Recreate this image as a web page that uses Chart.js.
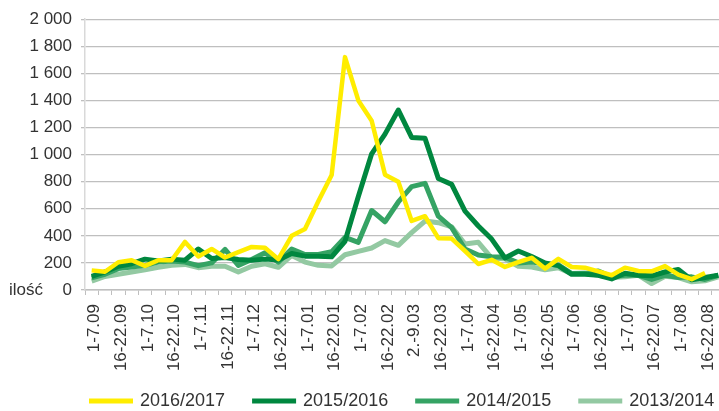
<!DOCTYPE html>
<html>
<head>
<meta charset="utf-8">
<script src="https://cdn.jsdelivr.net/npm/chart.js@4.4.1/dist/chart.umd.min.js"></script>
<style>
    html, body { margin: 0; padding: 0; background: #fff; overflow: hidden; }
    #wrap { width: 802px; height: 411px; }
</style>
</head>
<body>
<div id="wrap"><canvas id="weeklyChart" width="802" height="411"></canvas></div>
<script>
// Weekly categories, September to August
const weeks = [
    '1-7.09', '8-15.09', '16-22.09', '23-30.09',
    '1-7.10', '8-15.10', '16-22.10', '23-31.10',
    '1-7.11', '8-15.11', '16-22.11', '23-30.11',
    '1-7.12', '8-15.12', '16-22.12', '23-31.12',
    '1-7.01', '8-15.01', '16-22.01', '23-31.01',
    '1-7.02', '8-15.02', '16-22.02', '23-28.02',
    '2.-9.03', '10-15.03', '16-22.03', '23-31.03',
    '1-7.04', '8-15.04', '16-22.04', '23-30.04',
    '1-7.05', '8-15.05', '16-22.05', '23-31.05',
    '1-7.06', '8-15.06', '16-22.06', '23-30.06',
    '1-7.07', '8-15.07', '16-22.07', '23-31.07',
    '1-7.08', '8-15.08', '16-22.08', '23-31.08'
];

const season2016 = [145, 135, 205, 220, 178, 220, 220, 355, 248, 303, 240, 280, 318, 312, 228, 400,
    450, 655, 850, 1720, 1400, 1250, 852, 800, 510, 545, 383, 380, 288, 192, 223, 170,
    206, 238, 158, 230, 170, 165, 137, 109, 165, 141, 138, 177, 114, 80, 126, null];
const season2015 = [100, 133, 175, 194, 228, 215, 228, 220, 303, 232, 240, 225, 220, 228, 222, 270,
    250, 250, 245, 360, 690, 1006, 1151, 1329, 1127, 1120, 824, 780, 582, 473, 376, 236,
    288, 247, 199, 180, 116, 116, 109, 82, 124, 109, 105, 133, 152, 75, 92, 109];
const season2014 = [90, 116, 158, 170, 182, 206, 215, 206, 180, 200, 300, 182, 225, 275, 206, 303,
    262, 262, 283, 388, 352, 587, 504, 650, 764, 788, 545, 461, 303, 258, 245, 242,
    200, 206, 194, 185, 121, 121, 140, 97, 109, 109, 78, 109, 92, 97, 78, 109];
const season2013 = [65, 100, 116, 133, 150, 168, 182, 189, 165, 175, 175, 133, 175, 194, 168, 255,
    206, 182, 178, 260, 285, 310, 365, 330, 424, 509, 497, 467, 339, 352, 235, 230,
    175, 170, 150, 165, 121, 126, 109, 92, 97, 109, 48, 102, 92, 61, 68, 97];

const seasonNames = ['2016/2017', '2015/2016', '2014/2015', '2013/2014'];
const seasonColors = ['#ffed00', '#00873f', '#35a364', '#93c9a2'];
const yTicks = [0, 200, 400, 600, 800, 1000, 1200, 1400, 1600, 1800, 2000];

const FONT = 'Liberation Sans';
const TEXT = '#333333';

// "2 000" style numbers
function formatNumber(v) {
    if (v < 1000) return String(v);
    return Math.floor(v / 1000) + ' ' + String(v % 1000).padStart(3, '0');
}

// Legend and the "ilość" axis note, drawn on the canvas
const extrasPlugin = {
    id: 'extras',
    afterDraw(chart) {
        const ctx = chart.ctx;
        const y = chart.scales.y;
        ctx.save();
        ctx.fillStyle = TEXT;
        ctx.font = '17px "' + FONT + '"';
        ctx.textBaseline = 'middle';
        ctx.textAlign = 'left';
        ctx.fillText('ilość', 9, y.getPixelForValue(0));

        ctx.font = '18px "' + FONT + '"';
        let x = 89;
        const ly = 401;
        chart.data.datasets.forEach(ds => {
            ctx.fillStyle = ds.borderColor;
            ctx.fillRect(x, ly - 2.5, 44, 5);
            ctx.fillStyle = TEXT;
            ctx.fillText(ds.label, x + 51, ly);
            x += 51 + ctx.measureText(ds.label).width + 27;
        });
        ctx.restore();
    }
};

const series = [season2016, season2015, season2014, season2013];

new Chart(document.getElementById('weeklyChart').getContext('2d'), {
    type: 'line',
    data: {
        labels: weeks,
        datasets: series.map((values, i) => ({
            label: seasonNames[i],
            data: values,
            borderColor: seasonColors[i],
            backgroundColor: seasonColors[i],
            borderWidth: i === 0 ? 4.5 : 5,
            borderJoinStyle: 'round',
            pointRadius: 0,
            tension: 0,
            spanGaps: false
        }))
    },
    options: {
        responsive: false,
        animation: false,
        devicePixelRatio: 1,
        layout: { padding: { left: 0, top: 15, right: 77, bottom: 35 } },
        plugins: {
            legend: { display: false },
            tooltip: { enabled: false }
        },
        scales: {
            x: {
                offset: true,
                grid: { offset: true, drawOnChartArea: false, drawTicks: true, tickLength: 5, color: '#bfbfbf' },
                border: { color: '#bfbfbf', width: 1.5 },
                ticks: {
                    autoSkip: false,
                    minRotation: 90,
                    maxRotation: 90,
                    padding: 9,
                    labelOffset: 3,
                    color: TEXT,
                    font: { family: FONT, size: 17 },
                    callback: function(value, index) {
                        return index % 2 === 0 ? weeks[index] : '';
                    }
                },
                afterFit: function(scale) { scale.height = 86; }
            },
            y: {
                min: yTicks[0],
                max: yTicks[yTicks.length - 1],
                afterBuildTicks: function(scale) {
                    scale.ticks = yTicks.map(v => ({ value: v }));
                },
                grid: { color: '#bfbfbf', lineWidth: 1.3, tickLength: 4 },
                border: { color: '#d9d9d9', width: 1.5 },
                ticks: {
                    padding: 9,
                    color: TEXT,
                    font: { family: FONT, size: 17 },
                    callback: function(value) { return formatNumber(value); }
                },
                afterFit: function(scale) { scale.width = 85; }
            }
        }
    },
    plugins: [extrasPlugin]
});
</script>
</body>
</html>
